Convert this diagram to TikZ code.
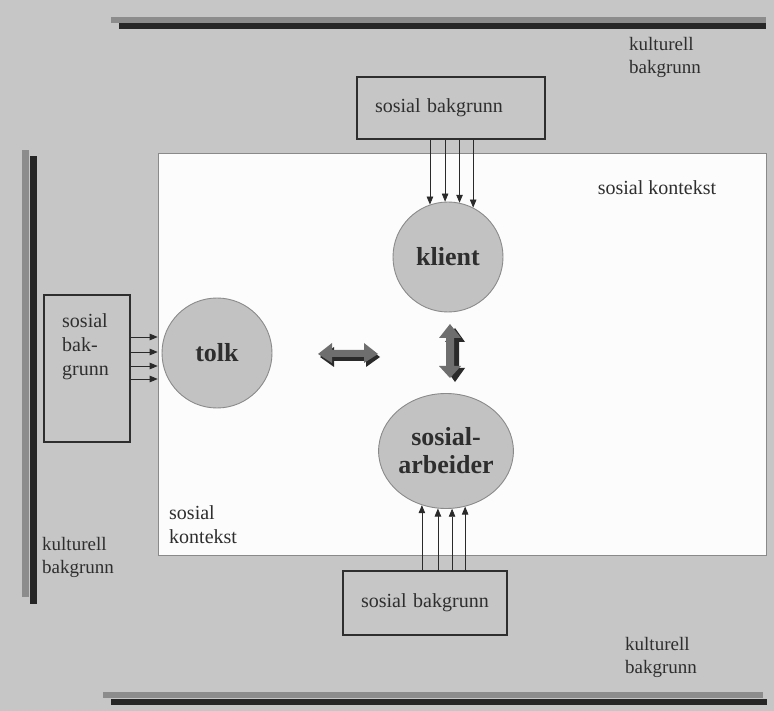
\documentclass[tikz,border=0pt]{standalone}
\usepackage{fontspec}
\setmainfont{Liberation Serif}
\usetikzlibrary{shapes.geometric,arrows.meta,calc}
\definecolor{bggray}{HTML}{C6C6C6}
\definecolor{barlight}{HTML}{8C8C8C}
\definecolor{bardark}{HTML}{262626}
\definecolor{txt}{HTML}{2E2E2E}
\definecolor{circfill}{HTML}{C2C2C2}
\definecolor{circline}{HTML}{8A8A8A}
\definecolor{ctxfill}{HTML}{FCFCFC}
\definecolor{arrgray}{HTML}{6E6E6E}
\definecolor{arrdark}{HTML}{2A2A2A}
\tikzset{
  lbl/.style={text=txt, font=\fontsize{19}{23}\selectfont, inner sep=0pt, align=left},
  bgbox/.style={draw=txt, line width=1.3pt, fill=bggray, inner ysep=0pt, inner xsep=18pt, text width=152pt, align=left, text=txt, font=\fontsize{20}{24}\selectfont},
  pers/.style={circle, draw=circline, line width=0.9pt, fill=circfill, minimum size=110pt, inner sep=0pt, text=txt, font=\bfseries\fontsize{26}{30}\selectfont},
  feed/.style={draw=arrgray, line width=0.7pt, -{Triangle[length=8pt,width=6.5pt]}, arrdark}
}
\begin{document}
\begin{tikzpicture}[x=1pt,y=-1pt]
\fill[bggray] (0,0) rectangle (774,711);
\useasboundingbox (0,0) rectangle (774,711);
% culture bars
\fill[barlight] (111,17) rectangle (766,23);
\fill[bardark] (119,23) rectangle (766,29);
\fill[barlight] (22,150) rectangle (29,597);
\fill[bardark] (30,156) rectangle (37,604);
\fill[barlight] (103,692) rectangle (763,698);
\fill[bardark] (111,699) rectangle (767,705);
% social context
\node[draw=circline, line width=0.6pt, fill=ctxfill, minimum width=608pt, minimum height=402pt, inner sep=0pt] (ctx) at (462,354) {};
\node[lbl, font=\fontsize{20}{24}\selectfont] (kt1) at (657,188) {sosial kontekst};
\node[lbl, anchor=west, font=\fontsize{20}{24}\selectfont] (kt2) at (169,525) {sosial\\kontekst};
% cultural labels
\node[lbl, anchor=west] (ku1) at (629,57) {kulturell\\bakgrunn};
\node[lbl, anchor=west] (ku2) at (42,557) {kulturell\\bakgrunn};
\node[lbl, anchor=west] (ku3) at (625,657) {kulturell\\bakgrunn};
% background boxes
\node[bgbox, minimum height=62pt] (top) at (451,108) {sosial bakgrunn};
\node[bgbox, text width=128pt, minimum height=64pt] (bot) at (425,603) {sosial bakgrunn};
\node[draw=txt, line width=1.3pt, fill=bggray, minimum width=86pt, minimum height=147pt, inner sep=0pt] (lb) at (87,368.5) {};
\node[lbl, anchor=west, font=\fontsize{20}{24}\selectfont] (lbt) at (62,347) {sosial\\bak-\\grunn};
% persons
\node[pers] (klient) at (448,257) {klient};
\node[pers] (tolk) at (217,353) {tolk};
\node[pers, ellipse, minimum width=133pt, minimum height=115pt, align=center] (sa) at (446,451) {sosial-\\[-2pt]arbeider};
% influence arrows
\foreach \a in {109,93,78.5,63}
  \draw[feed] (klient.\a |- top.south) -- (klient.\a);
\foreach \a in {246.7,262,276,289.2}
  \draw[feed] (sa.\a |- bot.north) -- (sa.\a);
\foreach \d/\n in {-31.5/1,-16.5/2,-2.5/3,10.5/4}{
  \coordinate (l\n) at ($(lb.east)+(0,\d)$);
  \draw[feed] (l\n) -- (l\n -| ctx.west);
}
% communication double arrows
\begin{scope}[shift={(348,354)}]
  \fill[arrdark] (-28,3) -- (-14,-7) -- (-14,0) -- (18,0) -- (18,-7) -- (32,3) -- (18,13) -- (18,7) -- (-14,7) -- (-14,13) -- cycle;
  \fill[arrgray] (-30,0) -- (-16,-11) -- (-16,-4) -- (16,-4) -- (16,-11) -- (30,0) -- (16,9) -- (16,3) -- (-16,3) -- (-16,9) -- cycle;
\end{scope}
\begin{scope}[shift={(450,352)}]
  \fill[arrdark] (5,-24) -- (15,-10) -- (9,-10) -- (9,16) -- (15,16) -- (5,30) -- (-5,16) -- (1,16) -- (1,-10) -- (-5,-10) -- cycle;
  \fill[arrgray] (0,-28) -- (11,-14) -- (4,-14) -- (4,14) -- (11,14) -- (0,26) -- (-11,14) -- (-4,14) -- (-4,-14) -- (-11,-14) -- cycle;
\end{scope}
\end{tikzpicture}
\end{document}
